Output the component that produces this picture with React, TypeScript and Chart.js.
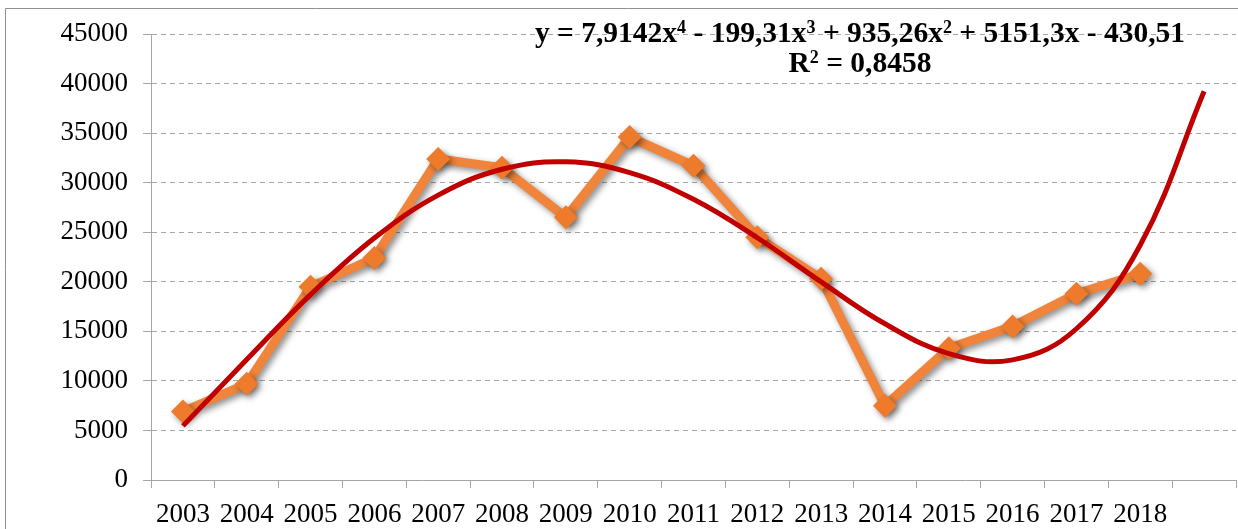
import React, { useEffect, useRef } from "react";
import { Chart, registerables } from "chart.js";
Chart.register(...registerables);

const categories = ["2003", "2004", "2005", "2006", "2007", "2008", "2009", "2010", "2011", "2012", "2013", "2014", "2015", "2016", "2017", "2018", ""];
const values = [6900, 9700, 19500, 22400, 32400, 31500, 26500, 34600, 31700, 24500, 20300, 7500, 13300, 15500, 18800, 20800, null];
const trendValues = [5460, 12150, 18700, 24410, 28740, 31350, 32100, 31010, 28320, 24440, 19990, 15760, 12750, 12120, 15260, 23710, 39220];
const yMin = 0;
const yMax = 45000;
const yStep = 5000;
// equation pieces: [text, isSuperscript]
const equationParts: [string, boolean][] = [
  ["y = 7,9142x", false], ["4", true], [" - 199,31x", false], ["3", true],
  [" + 935,26x", false], ["2", true], [" + 5151,3x - 430,51", false],
];
const r2Parts: [string, boolean][] = [["R", false], ["2", true], [" = 0,8458", false]];

const FONT = "'Liberation Serif', 'Times New Roman', serif";
const GRID = "#a6a6a6";
const CANVAS_W = 1248;
const CANVAS_H = 529;

function drawParts(ctx: CanvasRenderingContext2D, parts: [string, boolean][], cx: number, baseline: number, size: number, supSize: number, rise: number) {
  const big = `bold ${size}px ${FONT}`;
  const small = `bold ${supSize}px ${FONT}`;
  let total = 0;
  for (const [t, sup] of parts) {
    ctx.font = sup ? small : big;
    total += ctx.measureText(t).width;
  }
  let x = cx - total / 2;
  ctx.textAlign = "left";
  ctx.textBaseline = "alphabetic";
  ctx.fillStyle = "#000";
  for (const [t, sup] of parts) {
    ctx.font = sup ? small : big;
    ctx.fillText(t, x, sup ? baseline - rise : baseline);
    x += ctx.measureText(t).width;
  }
}

const decorPlugin = {
  id: "decor",
  beforeDraw(chart: any) {
    const ctx = chart.ctx as CanvasRenderingContext2D;
    ctx.save();
    ctx.fillStyle = "#fff";
    ctx.fillRect(0, 0, chart.width, chart.height);
    ctx.strokeStyle = "#8f8f8f";
    ctx.lineWidth = 1;
    ctx.beginPath();
    ctx.moveTo(5.5, chart.height + 5);
    ctx.lineTo(5.5, 8.5);
    ctx.lineTo(chart.width + 5, 8.5);
    ctx.stroke();
    ctx.restore();
  },
  beforeDatasetDraw(chart: any, args: any) {
    const ctx = chart.ctx as CanvasRenderingContext2D;
    ctx.save();
    if (args.meta.label === "data") {
      ctx.shadowColor = "rgba(0,0,0,0.45)";
      ctx.shadowBlur = 6;
      ctx.shadowOffsetX = 3;
      ctx.shadowOffsetY = 3;
    }
  },
  afterDatasetDraw(chart: any) {
    chart.ctx.restore();
  },
  afterDraw(chart: any) {
    const ctx = chart.ctx as CanvasRenderingContext2D;
    ctx.save();
    drawParts(ctx, equationParts, 860, 42, 29.5, 18, 9);
    drawParts(ctx, r2Parts, 860, 72, 29.5, 18, 9);
    ctx.restore();
  },
};

export default function App() {
  const ref = useRef<HTMLCanvasElement>(null);
  useEffect(() => {
    document.body.style.margin = "0";
    const chart = new Chart(ref.current!, {
      type: "line",
      data: {
        labels: categories,
        datasets: [
          {
            label: "trend",
            data: trendValues,
            borderColor: "#c00000",
            borderWidth: 5,
            pointRadius: 0,
            tension: 0.4,
            fill: false,
            order: 0,
          },
          {
            label: "data",
            data: values,
            borderColor: "#f0843a",
            backgroundColor: "#ee7a2c",
            borderWidth: 9,
            pointStyle: "rectRot",
            pointRadius: 12,
            pointBorderWidth: 0,
            tension: 0,
            fill: false,
            order: 1,
          },
        ],
      },
      plugins: [decorPlugin],
      options: {
        animation: false,
        responsive: false,
        devicePixelRatio: 1,
        layout: { padding: { top: 34, right: 3, bottom: 0, left: 0 } },
        plugins: { legend: { display: false }, tooltip: { enabled: false } },
        scales: {
          x: {
            type: "category",
            offset: true,
            grid: { offset: true, drawOnChartArea: false, drawTicks: true, tickLength: 8, color: GRID },
            border: { display: true, color: GRID, width: 1 },
            ticks: { color: "#000", font: { family: FONT, size: 27 }, padding: 11, maxRotation: 0, autoSkip: false },
            afterFit: (s: any) => { s.height = 49; },
          },
          y: {
            min: yMin,
            max: yMax,
            grid: {
              color: (c: any) => (c.tick && c.tick.value === 0 ? "rgba(0,0,0,0)" : GRID),
              tickColor: GRID,
              tickLength: 8,
              lineWidth: 1,
            },
            border: { display: true, color: GRID, width: 1, dash: [5, 4] },
            ticks: {
              stepSize: yStep,
              color: "#000",
              font: { family: FONT, size: 27 },
              padding: 15,
              callback: (v: any) => String(v),
            },
            afterFit: (s: any) => { s.width = 151; },
          },
        },
      },
    });
    return () => chart.destroy();
  }, []);
  return (
    <div style={{ width: 1238, height: 529, overflow: "hidden" }}>
      <canvas ref={ref} width={CANVAS_W} height={CANVAS_H} style={{ display: "block" }} />
    </div>
  );
}
